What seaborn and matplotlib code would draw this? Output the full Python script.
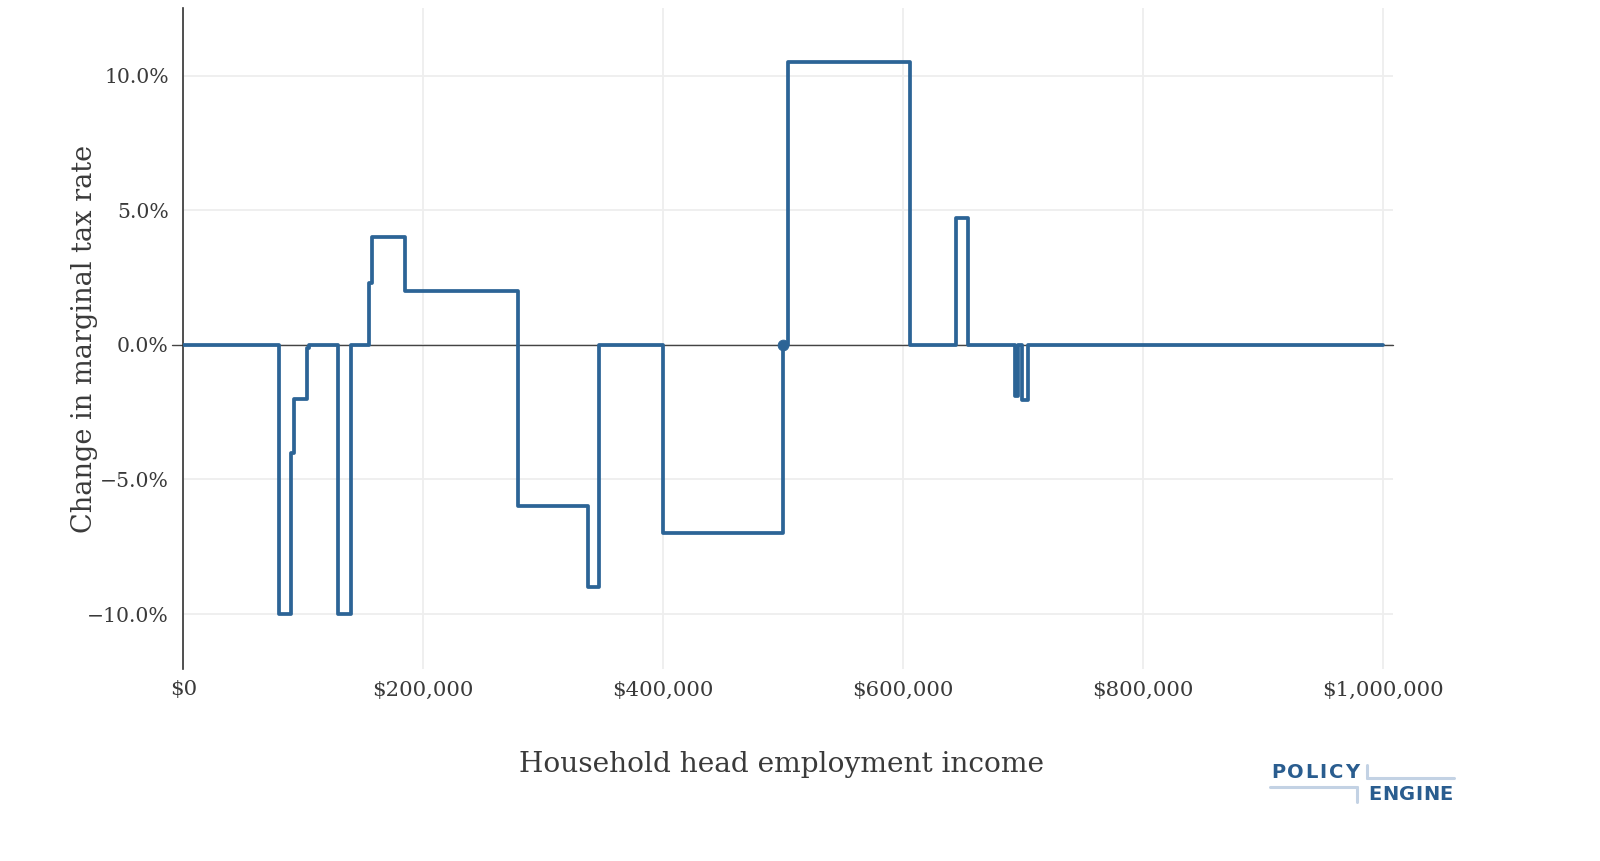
import matplotlib
matplotlib.use("Agg")
import matplotlib.pyplot as plt
import matplotlib.ticker as mticker
import matplotlib.transforms as mtransforms
import seaborn as sns
import pandas as pd

# ---- data ----
income_k = [0, 80, 90, 92.5, 103, 104.5, 129, 140, 155, 157, 185, 279, 337.5,
            346.5, 400, 500, 504, 606, 644, 654, 693, 696, 699, 704, 1000]
change_pct = [0, -10, -4, -2, -0.1, 0, -10, 0, 2.3, 4.0, 2.0, -6.0, -9.0,
              0, -7.0, 0, 10.5, 0, 4.7, 0, -1.9, 0, -2.05, 0, 0]
marker_income_k = [500]
marker_change_pct = [0]
x_ticks = [0, 200000, 400000, 600000, 800000, 1000000]
x_tick_labels = ["$0", "$200,000", "$400,000", "$600,000", "$800,000", "$1,000,000"]
y_ticks = [-10, -5, 0, 5, 10]

BLUE = "#2C6496"
TEXT = "#3a3a3a"
GRID = "#eeeeee"

sns.set_theme(style="white")
plt.rcParams["font.family"] = ["DejaVu Serif"]

df = pd.DataFrame({"income": [v * 1000 for v in income_k], "change": change_pct})
mk = pd.DataFrame({"income": [v * 1000 for v in marker_income_k], "change": marker_change_pct})

fig = plt.figure(figsize=(16, 8.61), dpi=100)
ax = fig.add_axes([0.11456, 0.22265, 0.75588, 0.76771])

ax.set_xlim(0, 1008000)
ax.set_ylim(-12.05, 12.5)

ax.set_xticks(x_ticks)
ax.set_xticklabels(x_tick_labels)
ax.set_yticks(y_ticks)
ax.yaxis.set_major_formatter(mticker.FuncFormatter(
    lambda v, p: ("\u2212" if v < 0 else "") + f"{abs(v):.1f}%"))
ax.grid(True, color=GRID, linewidth=1.3)
ax.set_axisbelow(True)

trans = mtransforms.blended_transform_factory(ax.transAxes, ax.transData)
ax.plot([-0.0097, 1], [0, 0], color="#444444", linewidth=1.0, transform=trans,
        clip_on=False, zorder=1.5)

sns.lineplot(data=df, x="income", y="change", drawstyle="steps-post",
             estimator=None, sort=False, color=BLUE, linewidth=2.7, ax=ax, zorder=3)
sns.scatterplot(data=mk, x="income", y="change", color=BLUE, s=60,
                edgecolor=BLUE, ax=ax, zorder=4)

for s in ["top", "right", "bottom"]:
    ax.spines[s].set_visible(False)
ax.spines["left"].set_color("#333333")
ax.spines["left"].set_linewidth(1.2)

ax.tick_params(axis="y", length=8.4, width=1.2, color=GRID, pad=2,
               labelsize=14.7, labelcolor=TEXT)
ax.tick_params(axis="x", length=0, pad=8, labelsize=15.3, labelcolor=TEXT)

ax.set_xlabel("Household head employment income", fontsize=20.2, color=TEXT, va="top")
ax.xaxis.set_label_coords(0.495, -0.124)
ax.set_ylabel("Change in marginal tax rate", fontsize=19.5, color=TEXT, va="center")
ax.yaxis.set_label_coords(-0.082, 0.5)

# ---- PolicyEngine logo ----
LOGO = "#2A5D8F"
LIGHT = "#C3D2E4"
W, H = 1600.0, 861.0
def fx(px):
    return px / W
def fy(py):
    return 1 - py / H

renderer = fig.canvas.get_renderer()
def tracked(word, x0, x1, yc, size):
    arts = [fig.text(0, fy(yc), ch, fontsize=size, fontweight="bold", color=LOGO,
                     ha="left", va="center", family=["DejaVu Sans"]) for ch in word]
    widths = [a.get_window_extent(renderer).width for a in arts]
    gap = ((x1 - x0) - sum(widths)) / (len(word) - 1)
    x = x0
    for a, w in zip(arts, widths):
        a.set_x(fx(x))
        x += w + gap

tracked("POLICY", 1271, 1359, 772, 14)
tracked("ENGINE", 1368, 1453, 795, 14)

lw = 2.2
fig.add_artist(plt.Line2D([fx(1270), fx(1357)], [fy(786.5), fy(786.5)], color=LIGHT, lw=lw))
fig.add_artist(plt.Line2D([fx(1357), fx(1357)], [fy(786.5), fy(802)], color=LIGHT, lw=lw))
fig.add_artist(plt.Line2D([fx(1366.5), fx(1366.5)], [fy(765), fy(777.5)], color=LIGHT, lw=lw))
fig.add_artist(plt.Line2D([fx(1366.5), fx(1454)], [fy(777.5), fy(777.5)], color=LIGHT, lw=lw))

fig.savefig("out.png", dpi=100, facecolor="white")
